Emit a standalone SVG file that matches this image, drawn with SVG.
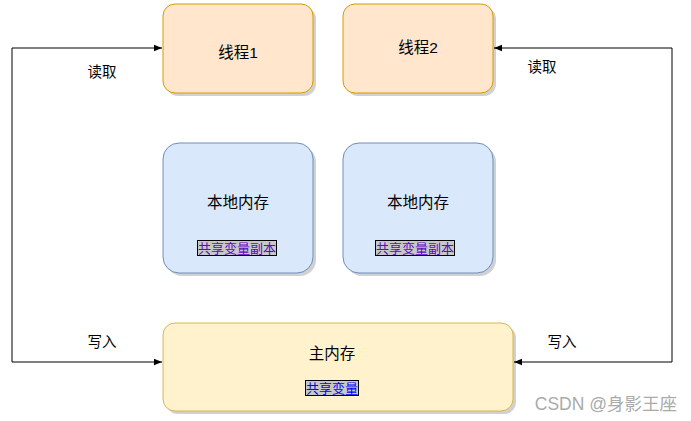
<svg xmlns="http://www.w3.org/2000/svg" width="691" height="421" viewBox="0 0 691 421">
<style>
.t{font-family:"Liberation Sans","Noto Sans CJK SC",sans-serif;font-size:15.5px;fill:#000;text-anchor:middle}
.s{font-family:"Liberation Sans","Noto Sans CJK SC",sans-serif;font-size:13px;text-anchor:middle}
.lbl{font-family:"Liberation Sans","Noto Sans CJK SC",sans-serif;font-size:14.5px;fill:#000;text-anchor:middle}
.th{fill:#ffe6cc;stroke:#d79b00;stroke-width:1}
.lm{fill:#dae8fc;stroke:#6c8ebf;stroke-width:1}
.mm{fill:#fff2cc;stroke:#d6b656;stroke-width:1}
.sh{fill:#000;opacity:0.18}
.tag{fill:#c8c8c8;stroke:#000;stroke-width:1}
.ln{fill:none;stroke:#000;stroke-width:1}
</style>
<defs>
<marker id="ah" viewBox="0 0 10 10" refX="10" refY="5" markerWidth="8" markerHeight="8" orient="auto-start-reverse" markerUnits="userSpaceOnUse">
<path d="M0,1 L10,5 L0,9 Z" fill="#000"/>
</marker>
</defs>
<rect width="691" height="421" fill="#fff"/>
<g id="connectors">
<path class="ln" d="M162,362 L12,362 L12,48 L162,48" marker-start="url(#ah)" marker-end="url(#ah)"/>
<path class="ln" d="M514,362 L672,362 L672,48 L494,48" marker-start="url(#ah)" marker-end="url(#ah)"/>
<text class="lbl" x="102" y="77">读取</text>
<text class="lbl" x="542" y="72">读取</text>
<text class="lbl" x="102" y="347">写入</text>
<text class="lbl" x="562" y="347">写入</text>
</g>
<g id="thread1">
<rect class="sh" x="166" y="7" width="150" height="89" rx="12"/>
<rect class="th" x="163" y="4" width="150" height="89" rx="12"/>
<text class="t" x="238" y="58">线程1</text>
</g>
<g id="thread2">
<rect class="sh" x="346" y="7" width="150" height="89" rx="12"/>
<rect class="th" x="343" y="4" width="150" height="89" rx="12"/>
<text class="t" x="418" y="53">线程2</text>
</g>
<g id="local1">
<rect class="sh" x="166" y="146" width="150" height="130" rx="16"/>
<rect class="lm" x="163" y="143" width="150" height="130" rx="16"/>
<text class="t" x="238" y="208">本地内存</text>
<rect class="tag" x="197.5" y="240.5" width="79" height="15"/>
<text class="s" x="237" y="253" fill="#6600cc">共享变量副本</text>
</g>
<g id="local2">
<rect class="sh" x="346" y="146" width="150" height="130" rx="16"/>
<rect class="lm" x="343" y="143" width="150" height="130" rx="16"/>
<text class="t" x="418" y="208">本地内存</text>
<rect class="tag" x="375.5" y="240.5" width="79" height="15"/>
<text class="s" x="415" y="253" fill="#6600cc">共享变量副本</text>
</g>
<g id="mainmem">
<rect class="sh" x="166" y="326" width="350" height="88" rx="12"/>
<rect class="mm" x="163" y="323" width="350" height="88" rx="12"/>
<text class="t" x="332" y="359">主内存</text>
<rect class="tag" x="305.5" y="380.5" width="53" height="15"/>
<text class="s" x="332" y="393" fill="#0000ff">共享变量</text>
</g>
<text x="677" y="410" font-family="'Liberation Sans','Noto Sans CJK SC',sans-serif" font-size="17.5" fill="#aaa" text-anchor="end">CSDN @身影王座</text>
</svg>
